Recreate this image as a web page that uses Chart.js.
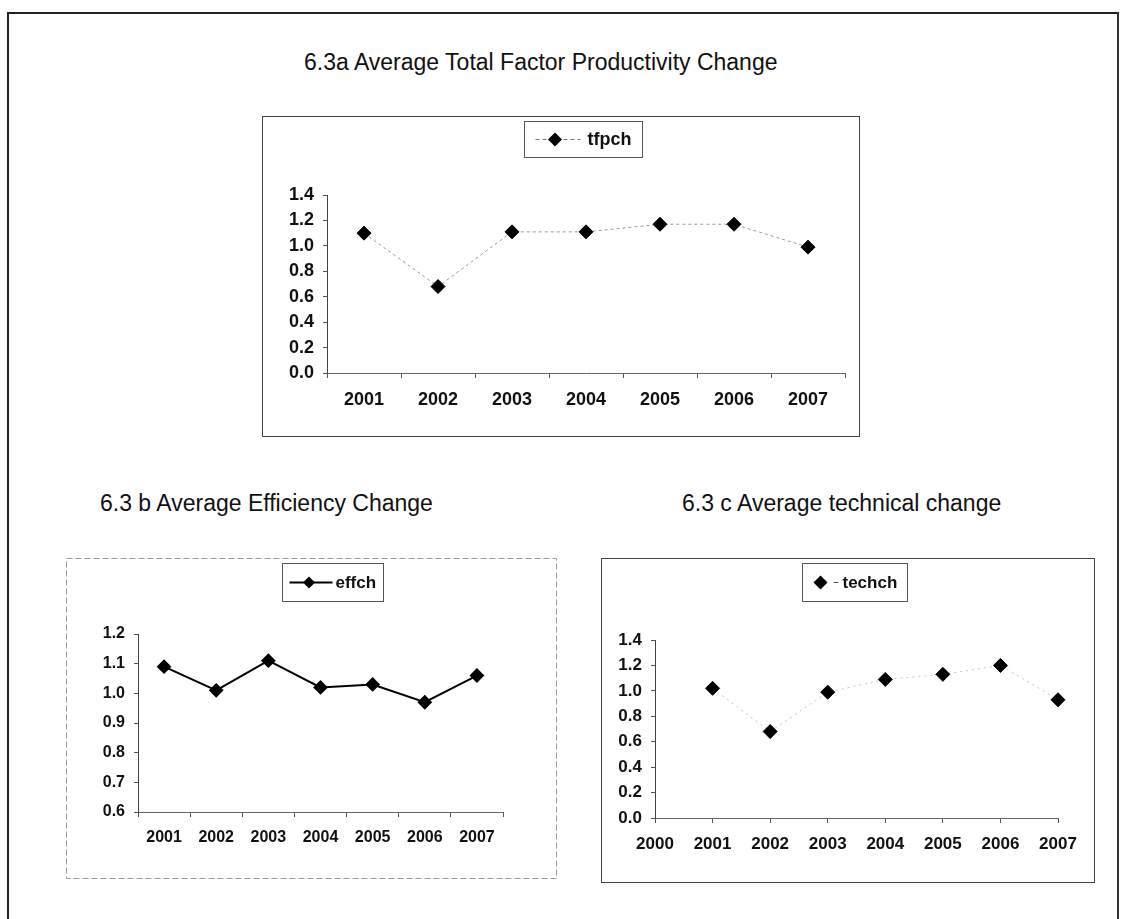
<!DOCTYPE html>
<html>
<head>
<meta charset="utf-8">
<script src="https://cdn.jsdelivr.net/npm/chart.js@4.4.1/dist/chart.umd.min.js"></script>
<style>
  body { margin: 0; background: #fff; font-family: "Liberation Sans", Arial, sans-serif; }
  #pagina { position: relative; width: 1121px; height: 919px; overflow: hidden; background: #fff; }
  #marco { position: absolute; left: 7px; top: 12px; width: 1108px; height: 930px;
           border-top: 2px solid #222; border-left: 2px solid #222; border-right: 2px solid #333; }
  .titulo { position: absolute; font-size: 23px; line-height: 23px; color: #111; white-space: nowrap; }
  canvas { position: absolute; }
</style>
</head>
<body>
<div id="pagina">
  <div id="marco"></div>
  <div class="titulo" style="left:304px; top:51px;">6.3a Average Total Factor Productivity Change</div>
  <div class="titulo" style="left:100px; top:492px;">6.3 b Average Efficiency Change</div>
  <div class="titulo" style="left:682px; top:492px;">6.3 c Average technical change</div>
  <canvas id="graficoA" width="598" height="321" style="left:262px; top:116px;"></canvas>
  <canvas id="graficoB" width="491" height="321" style="left:66px; top:558px;"></canvas>
  <canvas id="graficoC" width="494" height="325" style="left:601px; top:558px;"></canvas>
</div>
<script>
// datos
const years = ["2001", "2002", "2003", "2004", "2005", "2006", "2007"];
const tfpch = [1.10, 0.68, 1.11, 1.11, 1.17, 1.17, 0.99];
const effch = [1.09, 1.01, 1.11, 1.02, 1.03, 0.97, 1.06];
const techYears = [2001, 2002, 2003, 2004, 2005, 2006, 2007];
const techch = [1.02, 0.68, 0.99, 1.09, 1.13, 1.20, 0.93];

// rangos de ejes: [min, max, paso]
const ejeTfp = [0, 1.4, 0.2];
const ejeEff = [0.6, 1.2, 0.1];
const ejeTech = [0, 1.4, 0.2];
const ejeXTech = [2000, 2007, 1];

// Marco alrededor de cada grafico
const marco = {
  id: "marco",
  beforeDraw(chart, args, opts) {
    const ctx = chart.ctx;
    ctx.save();
    ctx.strokeStyle = opts.color;
    ctx.lineWidth = 1;
    ctx.setLineDash(opts.dash || []);
    ctx.strokeRect(0.5, 0.5, chart.width - 1, chart.height - 1);
    ctx.restore();
  },
};

// Leyenda con recuadro, como la de Excel
const leyendaCaja = {
  id: "leyendaCaja",
  afterDraw(chart, args, opts) {
    const ctx = chart.ctx;
    const ds = chart.data.datasets[0];
    ctx.save();
    ctx.font = opts.font;
    const tw = ctx.measureText(ds.label).width;
    const w = opts.pad + opts.sample + opts.gap + tw + opts.pad;
    const ca = chart.chartArea;
    const x0 = Math.round((ca.left + ca.right) / 2 - w / 2 + (opts.shift || 0)) + 0.5;
    const y0 = opts.top + 0.5;
    ctx.strokeStyle = "#555";
    ctx.lineWidth = 1;
    ctx.strokeRect(x0, y0, Math.round(w), opts.height);
    const cy = y0 + opts.height / 2;
    const sx = x0 + opts.pad;

    function diamante(x, y, r) {
      ctx.beginPath();
      ctx.moveTo(x, y - r);
      ctx.lineTo(x + r, y);
      ctx.lineTo(x, y + r);
      ctx.lineTo(x - r, y);
      ctx.closePath();
      ctx.fillStyle = "#000";
      ctx.fill();
    }

    if (opts.kind === "dashed") {
      ctx.strokeStyle = "#777";
      ctx.setLineDash([4, 3]);
      ctx.beginPath();
      ctx.moveTo(sx, cy);
      ctx.lineTo(sx + opts.sample, cy);
      ctx.stroke();
      ctx.setLineDash([]);
      diamante(sx + opts.sample / 2 - 3, cy, 7);
    } else if (opts.kind === "solid") {
      ctx.strokeStyle = "#000";
      ctx.lineWidth = 2;
      ctx.beginPath();
      ctx.moveTo(sx, cy);
      ctx.lineTo(sx + opts.sample, cy);
      ctx.stroke();
      diamante(sx + opts.sample / 2 - 2, cy, 6);
    } else {
      diamante(sx + 8, cy, 7);
      ctx.strokeStyle = "#555";
      ctx.beginPath();
      ctx.moveTo(sx + opts.sample - 5, cy);
      ctx.lineTo(sx + opts.sample, cy);
      ctx.stroke();
    }
    ctx.fillStyle = "#111";
    ctx.textBaseline = "middle";
    ctx.fillText(ds.label, sx + opts.sample + opts.gap, cy + 1);
    ctx.restore();
  },
};

function ejeY(rango, ancho, font) {
  return {
    min: rango[0],
    max: rango[1],
    ticks: { stepSize: rango[2], color: "#111", font, padding: 9, callback: (v) => v.toFixed(1) },
    grid: { drawOnChartArea: false, tickLength: 4, color: "#555" },
    border: { color: "#444", width: 1 },
    afterFit: (s) => { s.width = ancho; },
  };
}

function ejeXCat(alto, font) {
  return {
    offset: true,
    ticks: { color: "#111", font, padding: 11, maxRotation: 0 },
    grid: { offset: true, drawOnChartArea: false, tickLength: 5, color: "#555" },
    border: { color: "#666", width: 1 },
    afterFit: (s) => { s.height = alto; },
  };
}

const fontA = { family: "'Liberation Sans', Arial", size: 18, weight: "bold" };
const fontB = { family: "'Liberation Sans', Arial", size: 16, weight: "bold" };
const fontC = { family: "'Liberation Sans', Arial", size: 17, weight: "bold" };

const base = {
  responsive: false,
  animation: false,
  events: [],
};

// 6.3a
new Chart(document.getElementById("graficoA"), {
  type: "line",
  data: {
    labels: years,
    datasets: [{
      label: "tfpch",
      data: tfpch,
      borderColor: "#9a9a9a",
      borderWidth: 1,
      borderDash: [3, 3],
      pointStyle: "rectRot",
      pointRadius: 7,
      pointBackgroundColor: "#000",
      pointBorderColor: "#000",
      tension: 0,
      clip: false,
    }],
  },
  options: {
    ...base,
    layout: { padding: { top: 79, right: 15, left: 0, bottom: 0 } },
    scales: { x: ejeXCat(64, fontA), y: ejeY(ejeTfp, 65, fontA) },
    plugins: {
      legend: { display: false },
      tooltip: { enabled: false },
      marco: { color: "#444" },
      leyendaCaja: { kind: "dashed", font: "bold 18px 'Liberation Sans', Arial", pad: 11, sample: 45, gap: 7, top: 5, height: 36, shift: -3 },
    },
  },
  plugins: [marco, leyendaCaja],
});

// 6.3 b
new Chart(document.getElementById("graficoB"), {
  type: "line",
  data: {
    labels: years,
    datasets: [{
      label: "effch",
      data: effch,
      borderColor: "#000",
      borderWidth: 2,
      pointStyle: "rectRot",
      pointRadius: 6,
      pointBackgroundColor: "#000",
      pointBorderColor: "#000",
      tension: 0,
      clip: false,
    }],
  },
  options: {
    ...base,
    layout: { padding: { top: 76, right: 54, left: 0, bottom: 0 } },
    scales: { x: ejeXCat(67, fontB), y: ejeY(ejeEff, 72, fontB) },
    plugins: {
      legend: { display: false },
      tooltip: { enabled: false },
      marco: { color: "#999", dash: [6, 3] },
      leyendaCaja: { kind: "solid", font: "bold 17px 'Liberation Sans', Arial", pad: 7, sample: 43, gap: 3, top: 5, height: 38, shift: 12 },
    },
  },
  plugins: [marco, leyendaCaja],
});

// 6.3 c
new Chart(document.getElementById("graficoC"), {
  type: "line",
  data: {
    datasets: [{
      label: "techch",
      data: techYears.map((x, i) => ({ x, y: techch[i] })),
      borderColor: "#c4c4c4",
      borderWidth: 1,
      borderDash: [2, 4],
      pointStyle: "rectRot",
      pointRadius: 7,
      pointBackgroundColor: "#000",
      pointBorderColor: "#000",
      tension: 0,
      clip: false,
    }],
  },
  options: {
    ...base,
    layout: { padding: { top: 82, right: 37, left: 0, bottom: 0 } },
    scales: {
      x: {
        type: "linear",
        min: ejeXTech[0],
        max: ejeXTech[1],
        ticks: { stepSize: ejeXTech[2], color: "#111", font: fontC, padding: 11, maxRotation: 0, callback: (v) => String(v) },
        grid: { drawOnChartArea: false, tickLength: 5, color: "#555" },
        border: { color: "#666", width: 1 },
        afterFit: (s) => { s.height = 65; },
      },
      y: ejeY(ejeTech, 54, fontC),
    },
    plugins: {
      legend: { display: false },
      tooltip: { enabled: false },
      marco: { color: "#444" },
      leyendaCaja: { kind: "marker", font: "bold 17px 'Liberation Sans', Arial", pad: 10, sample: 26, gap: 4, top: 5, height: 38, shift: -2 },
    },
  },
  plugins: [marco, leyendaCaja],
});
</script>
</body>
</html>
